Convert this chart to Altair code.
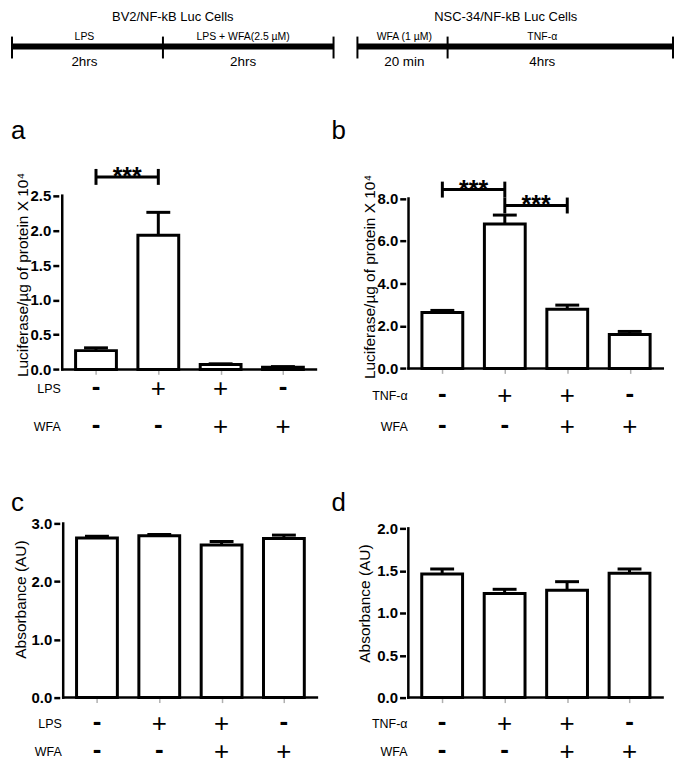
import altair as alt
import pandas as pd

FONT = "Liberation Sans"

# ------------------------------------------------------------------ data
positions = [1, 2, 3, 4]
lps_signs = ["-", "+", "+", "-"]
tnf_signs = ["-", "+", "+", "-"]
wfa_signs = ["-", "-", "+", "+"]

a_mean = [0.27, 1.93, 0.07, 0.03]
a_err = [0.04, 0.33, 0.01, 0.01]
b_mean = [2.63, 6.80, 2.78, 1.60]
b_err = [0.10, 0.42, 0.20, 0.14]
c_mean = [2.75, 2.79, 2.63, 2.74]
c_err = [0.03, 0.02, 0.06, 0.06]
d_mean = [1.46, 1.23, 1.27, 1.47]
d_err = [0.06, 0.05, 0.10, 0.05]

a_ticks = [0.0, 0.5, 1.0, 1.5, 2.0, 2.5]
b_ticks = [0.0, 2.0, 4.0, 6.0, 8.0]
c_ticks = [0.0, 1.0, 2.0, 3.0]
d_ticks = [0.0, 0.5, 1.0, 1.5, 2.0]

a_sig_from, a_sig_to, a_sig_level = [1], [2], [2.77]
b_sig_from, b_sig_to, b_sig_level = [1, 2], [2, 3], [8.42, 7.67]
sig_label = "***"

luc_title = "Luciferase/µg of protein X 10⁴"
abs_title = "Absorbance (AU)"

left_title = "BV2/NF-kB Luc Cells"
left_steps = ["LPS", "LPS + WFA(2.5 µM)"]
left_times = ["2hrs", "2hrs"]
left_weights = [1.0, 1.13]
left_label_frac = [0.48, 0.47]

right_title = "NSC-34/NF-kB Luc Cells"
right_steps = ["WFA (1 µM)", "TNF-α"]
right_times = ["20 min", "4hrs"]
right_weights = [1.0, 2.5]
right_label_frac = [0.52, 0.42]

# ------------------------------------------------------------ layout (px)
XPPU = 64.6        # px between neighbouring bars
FIRST = 35         # px from y axis to first bar centre
XLEN = 263         # x-axis length
BAR_W = 41
SIGN_SIZE = 26


def panel(letter, mean, err, ticks, title, row_names, row_signs,
          sig_from, sig_to, sig_level, geo):
    vl, vt, vw, vh = geo["view"]
    ax, y0, ppu = geo["axis_x"], geo["y0"], geo["ppu"]
    ox = ax - vl
    oy = y0 - vt
    x_d0 = 1 - (ox + FIRST) / XPPU
    x_d1 = x_d0 + vw / XPPU
    y_d0 = -(vh - oy) / ppu
    y_d1 = y_d0 + vh / ppu
    xs = alt.Scale(domain=[x_d0, x_d1], nice=False, zero=False)
    ys = alt.Scale(domain=[y_d0, y_d1], nice=False, zero=False)
    x_axis = alt.Axis(values=positions, labels=False, domain=False, grid=False,
                      ticks=True, tickSize=5, tickWidth=1.5, tickColor="#b0b0b0",
                      offset=oy - vh, title=None)
    y_axis = alt.Axis(values=ticks, format=".1f", domain=False, grid=False,
                      offset=-ox, labelFont=FONT, labelFontSize=15,
                      labelFontWeight="bold", labelColor="black", labelPadding=2,
                      tickSize=6, tickWidth=2.5, tickColor="black",
                      title=title, titleFont=FONT, titleFontSize=15.5,
                      titleFontWeight="normal", titleColor="black",
                      titleAngle=270, titleAlign="center", titleBaseline="middle",
                      titleX=geo["title_x"] - ax, titleY=geo["title_y"] - vt)

    def X(f):
        return alt.X(f, type="quantitative", scale=xs, axis=x_axis)

    def Y(f):
        return alt.Y(f, type="quantitative", scale=ys, axis=y_axis)

    bars = pd.DataFrame({"x": positions, "y": mean, "base": [0.0] * 4,
                         "top": [m + e for m, e in zip(mean, err)]})
    x_start = x_d0 + ox / XPPU
    x_end = x_start + XLEN / XPPU
    xline = pd.DataFrame({"x": [x_start], "x2": [x_end], "y": [0.0]})
    yline = pd.DataFrame({"x": [x_start], "y": [0.0], "top": [ticks[-1]]})

    layers = [
        alt.Chart(bars).mark_bar(width=BAR_W, fill="white", stroke="black",
                                 strokeWidth=3, orient="vertical")
        .encode(x=X("x"), y=Y("y"), y2=alt.Y2("base")),
        alt.Chart(bars).mark_rule(color="black", strokeWidth=3)
        .encode(x=X("x"), y=Y("y"), y2=alt.Y2("top")),
        alt.Chart(bars).mark_tick(orient="horizontal", size=24, thickness=3,
                                  color="black", opacity=1)
        .encode(x=X("x"), y=Y("top")),
        alt.Chart(xline).mark_rule(color="black", strokeWidth=2.5, strokeCap="square")
        .encode(x=X("x"), x2=alt.X2("x2"), y=Y("y")),
        alt.Chart(yline).mark_rule(color="black", strokeWidth=2.5, strokeCap="square")
        .encode(x=X("x"), y=Y("y"), y2=alt.Y2("top")),
    ]

    if sig_from:
        sig = pd.DataFrame({"x": sig_from, "x2": sig_to, "y": sig_level,
                            "mid": [(a + b) / 2 for a, b in zip(sig_from, sig_to)],
                            "label": [sig_label] * len(sig_from)})
        ends = pd.DataFrame({"x": sig_from + sig_to, "y": sig_level + sig_level})
        layers += [
            alt.Chart(sig).mark_rule(color="black", strokeWidth=3)
            .encode(x=X("x"), x2=alt.X2("x2"), y=Y("y")),
            alt.Chart(ends).mark_tick(orient="vertical", size=16, thickness=3,
                                      color="black", opacity=1)
            .encode(x=X("x"), y=Y("y")),
            alt.Chart(sig).mark_text(font=FONT, fontSize=25, fontWeight="bold",
                                     baseline="alphabetic", dy=8, color="black")
            .encode(x=X("mid"), y=Y("y"), text="label:N"),
        ]

    for name, signs, ry in zip(row_names, row_signs, geo["rows"]):
        plus = pd.DataFrame({"x": [p for p, s in zip(positions, signs) if s == "+"],
                             "s": ["+" for s in signs if s == "+"]})
        minus = pd.DataFrame({"x": [p for p, s in zip(positions, signs) if s == "-"],
                              "s": ["-" for s in signs if s == "-"]})
        layers += [
            alt.Chart(plus).mark_text(font=FONT, fontSize=SIGN_SIZE, baseline="middle",
                                      color="black")
            .encode(x=X("x"), y=alt.value(ry - vt), text="s:N"),
            alt.Chart(minus).mark_text(font=FONT, fontSize=SIGN_SIZE, fontWeight="bold",
                                       baseline="middle", dy=-2, color="black")
            .encode(x=X("x"), y=alt.value(ry - vt), text="s:N"),
            alt.Chart(pd.DataFrame({"t": [name]})).mark_text(
                font=FONT, fontSize=12.5, align="right", baseline="middle",
                color="black")
            .encode(x=alt.value(ox + 2), y=alt.value(ry - vt), text="t:N"),
        ]

    layers.append(
        alt.Chart(pd.DataFrame({"t": [letter]})).mark_text(
            font=FONT, fontSize=26, align="left", baseline="middle", color="black")
        .encode(x=alt.value(geo["letter"][0] - vl), y=alt.value(geo["letter"][1] - vt),
                text="t:N"))

    return alt.layer(*layers).properties(width=vw, height=vh)


def timeline(title, steps, times, weights, fracs, geo):
    vl, vt, vw, vh = geo["view"]
    xa, xb = geo["line"]
    total = sum(weights)
    ppu = (xb - xa) / total
    d0 = -(xa - vl) / ppu
    xs = alt.Scale(domain=[d0, d0 + vw / ppu], nice=False, zero=False)

    def X(f):
        return alt.X(f, type="quantitative", scale=xs, axis=None)

    starts = [sum(weights[:i]) for i in range(len(weights))]
    bounds = starts + [total]
    seg = pd.DataFrame({"x": [0.0], "x2": [total]})
    bnd = pd.DataFrame({"x": bounds})
    lab = pd.DataFrame({"x": [s + f * w for s, f, w in zip(starts, fracs, weights)],
                        "step": steps, "time": times})
    ly = geo["line_y"] - vt
    layers = [
        alt.Chart(seg).mark_rule(color="black", strokeWidth=6)
        .encode(x=X("x"), x2=alt.X2("x2"), y=alt.value(ly)),
        alt.Chart(bnd).mark_rule(color="black", strokeWidth=2)
        .encode(x=X("x"), y=alt.value(ly - 10), y2=alt.value(ly + 12)),
        alt.Chart(lab).mark_text(font=FONT, fontSize=10.5, baseline="middle",
                                 color="black")
        .encode(x=X("x"), y=alt.value(ly - 10), text="step:N"),
        alt.Chart(lab).mark_text(font=FONT, fontSize=13.5, baseline="middle",
                                 color="black")
        .encode(x=X("x"), y=alt.value(ly + 16), text="time:N"),
        alt.Chart(pd.DataFrame({"t": [title]})).mark_text(
            font=FONT, fontSize=13, baseline="middle", color="black")
        .encode(x=alt.value(geo["title_x"] - vl), y=alt.value(7), text="t:N"),
    ]
    return alt.layer(*layers).properties(width=vw, height=vh)


tl_left = timeline(left_title, left_steps, left_times, left_weights, left_label_frac,
                   {"view": (8, 8, 338, 92), "line": (10, 333), "line_y": 45,
                    "title_x": 171.5})
tl_right = timeline(right_title, right_steps, right_times, right_weights,
                    right_label_frac,
                    {"view": (346, 8, 330, 92), "line": (357, 674), "line_y": 45,
                     "title_x": 506})

pa = panel("a", a_mean, a_err, a_ticks, luc_title, ["LPS", "WFA"],
           [lps_signs, wfa_signs], a_sig_from, a_sig_to, a_sig_level,
           {"view": (8, 100, 322, 340), "axis_x": 57, "y0": 369.3, "ppu": 69.8,
            "title_x": 20.5, "title_y": 274, "rows": [389, 427], "letter": (9, 130)})
pb = panel("b", b_mean, b_err, b_ticks, luc_title, ["TNF-α", "WFA"],
           [tnf_signs, wfa_signs], b_sig_from, b_sig_to, b_sig_level,
           {"view": (330, 100, 346, 340), "axis_x": 405.5, "y0": 368.3, "ppu": 21.33,
            "title_x": 369.5, "title_y": 276, "rows": [396, 427], "letter": (331, 130)})
pc = panel("c", c_mean, c_err, c_ticks, abs_title, ["LPS", "WFA"],
           [lps_signs, wfa_signs], [], [], [],
           {"view": (8, 440, 322, 328), "axis_x": 58, "y0": 699, "ppu": 58.3,
            "title_x": 19, "title_y": 600, "rows": [726, 754], "letter": (9, 504)})
pd_ = panel("d", d_mean, d_err, d_ticks, abs_title, ["TNF-α", "WFA"],
            [tnf_signs, wfa_signs], [], [], [],
            {"view": (330, 440, 346, 328), "axis_x": 405.3, "y0": 699, "ppu": 85,
             "title_x": 364.5, "title_y": 604, "rows": [726, 754], "letter": (331, 504)})

chart = alt.vconcat(
    alt.hconcat(tl_left, tl_right, spacing=0, bounds="flush"),
    alt.hconcat(pa, pb, spacing=0, bounds="flush"),
    alt.hconcat(pc, pd_, spacing=0, bounds="flush"),
    spacing=0,
).properties(padding=0).configure(font=FONT).configure_view(stroke=None)

chart.save("out.html", embed_options={"renderer": "svg", "actions": False})
